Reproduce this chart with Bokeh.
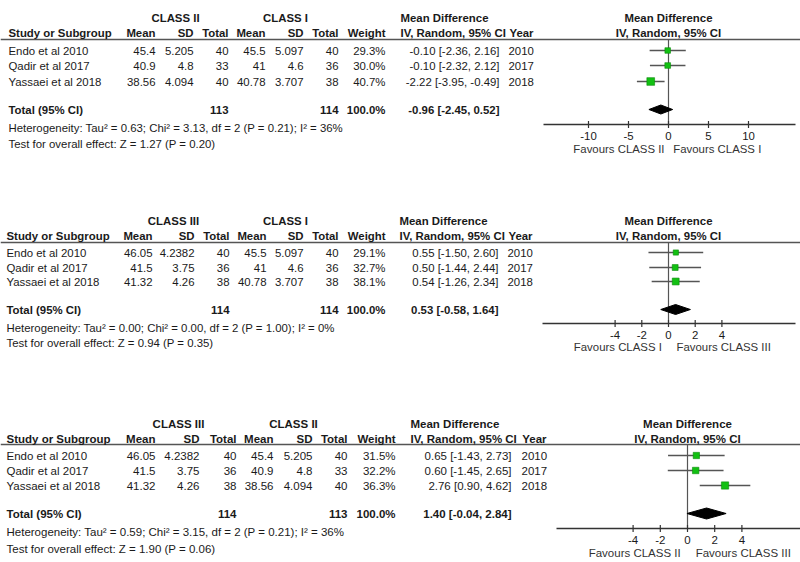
from bokeh.plotting import figure
from bokeh.models import Range1d
from bokeh.core.properties import value
from bokeh.embed import file_html
from bokeh.resources import INLINE

# ---------------- data ----------------
STUDIES = ["Endo et al 2010", "Qadir et al 2017", "Yassaei et al 2018"]
YEARS = [2010, 2017, 2018]

# Panel 1: CLASS II vs CLASS I
P1_GROUPS = ["CLASS II", "CLASS I"]
P1_MEAN_A = ["45.4", "40.9", "38.56"]
P1_SD_A = ["5.205", "4.8", "4.094"]
P1_N_A = [40, 33, 40]
P1_MEAN_B = ["45.5", "41", "40.78"]
P1_SD_B = ["5.097", "4.6", "3.707"]
P1_N_B = [40, 36, 38]
P1_WEIGHT = [29.3, 30.0, 40.7]
P1_MD = [-0.10, -0.10, -2.22]
P1_LO = [-2.36, -2.32, -3.95]
P1_HI = [2.16, 2.12, -0.49]
P1_TOTAL = [-0.96, -2.45, 0.52]
P1_N_TOT = [113, 114]
P1_W_TOT = 100.0
P1_HET = "Heterogeneity: Tau\u00b2 = 0.63; Chi\u00b2 = 3.13, df = 2 (P = 0.21); I\u00b2 = 36%"
P1_TEST = "Test for overall effect: Z = 1.27 (P = 0.20)"
P1_TICKS = [-10, -5, 0, 5, 10]
P1_FAV = ["Favours CLASS II", "Favours CLASS I"]

# Panel 2: CLASS III vs CLASS I
P2_GROUPS = ["CLASS III", "CLASS I"]
P2_MEAN_A = ["46.05", "41.5", "41.32"]
P2_SD_A = ["4.2382", "3.75", "4.26"]
P2_N_A = [40, 36, 38]
P2_MEAN_B = ["45.5", "41", "40.78"]
P2_SD_B = ["5.097", "4.6", "3.707"]
P2_N_B = [40, 36, 38]
P2_WEIGHT = [29.1, 32.7, 38.1]
P2_MD = [0.55, 0.50, 0.54]
P2_LO = [-1.50, -1.44, -1.26]
P2_HI = [2.60, 2.44, 2.34]
P2_TOTAL = [0.53, -0.58, 1.64]
P2_N_TOT = [114, 114]
P2_W_TOT = 100.0
P2_HET = "Heterogeneity: Tau\u00b2 = 0.00; Chi\u00b2 = 0.00, df = 2 (P = 1.00); I\u00b2 = 0%"
P2_TEST = "Test for overall effect: Z = 0.94 (P = 0.35)"
P2_TICKS = [-4, -2, 0, 2, 4]
P2_FAV = ["Favours CLASS I", "Favours CLASS III"]

# Panel 3: CLASS III vs CLASS II
P3_GROUPS = ["CLASS III", "CLASS II"]
P3_MEAN_A = ["46.05", "41.5", "41.32"]
P3_SD_A = ["4.2382", "3.75", "4.26"]
P3_N_A = [40, 36, 38]
P3_MEAN_B = ["45.4", "40.9", "38.56"]
P3_SD_B = ["5.205", "4.8", "4.094"]
P3_N_B = [40, 33, 40]
P3_WEIGHT = [31.5, 32.2, 36.3]
P3_MD = [0.65, 0.60, 2.76]
P3_LO = [-1.43, -1.45, 0.90]
P3_HI = [2.73, 2.65, 4.62]
P3_TOTAL = [1.40, -0.04, 2.84]
P3_N_TOT = [114, 113]
P3_W_TOT = 100.0
P3_HET = "Heterogeneity: Tau\u00b2 = 0.59; Chi\u00b2 = 3.15, df = 2 (P = 0.21); I\u00b2 = 36%"
P3_TEST = "Test for overall effect: Z = 1.90 (P = 0.06)"
P3_TICKS = [-4, -2, 0, 2, 4]
P3_FAV = ["Favours CLASS II", "Favours CLASS III"]

# ---------------- layout (pixels) ----------------
W, H = 800, 562
LAYOUT = [
    dict(grp_y=17, hdr_y=32, line_y=39, rows=[50, 65, 81], tot_y=109, het_y=127, test_y=143,
         axis_y=124, tick_y=135, fav_y=148, zero=668, scale=8.0, axis_px=(543, 795),
         study_x=8, cols=[155, 193, 228, 265, 303, 338, 385], md_r=499, year_l=508, year_r=533,
         mdh_l=400, grp_c=[175, 285], fc=668, sq=0.19, dh=4.5, fs=11.4),
    dict(grp_y=220, hdr_y=235, line_y=242, rows=[252, 267, 281], tot_y=309, het_y=327, test_y=342,
         axis_y=323, tick_y=334, fav_y=346, zero=668, scale=13.35, axis_px=(542, 795),
         study_x=6, cols=[152, 194, 229, 266, 303, 338, 385], md_r=498, year_l=507, year_r=532,
         mdh_l=399, grp_c=[173, 285], fc=668, sq=0.18, dh=5, fs=11.4),
    dict(grp_y=423, hdr_y=438, line_y=444, rows=[455, 470, 485], tot_y=513, het_y=531, test_y=548,
         axis_y=528, tick_y=539, fav_y=552, zero=687, scale=13.6, axis_px=(556, 800),
         study_x=6, cols=[155, 199, 236, 273, 312, 347, 395], md_r=511, year_l=521, year_r=546,
         mdh_l=410, grp_c=[178, 293], fc=687, sq=0.20, dh=5.5, fs=11.5),
]

PANELS = [
    dict(groups=P1_GROUPS, ma=P1_MEAN_A, sa=P1_SD_A, na=P1_N_A, mb=P1_MEAN_B, sb=P1_SD_B, nb=P1_N_B,
         w=P1_WEIGHT, md=P1_MD, lo=P1_LO, hi=P1_HI, tot=P1_TOTAL, ntot=P1_N_TOT, wtot=P1_W_TOT,
         het=P1_HET, test=P1_TEST, ticks=P1_TICKS, fav=P1_FAV),
    dict(groups=P2_GROUPS, ma=P2_MEAN_A, sa=P2_SD_A, na=P2_N_A, mb=P2_MEAN_B, sb=P2_SD_B, nb=P2_N_B,
         w=P2_WEIGHT, md=P2_MD, lo=P2_LO, hi=P2_HI, tot=P2_TOTAL, ntot=P2_N_TOT, wtot=P2_W_TOT,
         het=P2_HET, test=P2_TEST, ticks=P2_TICKS, fav=P2_FAV),
    dict(groups=P3_GROUPS, ma=P3_MEAN_A, sa=P3_SD_A, na=P3_N_A, mb=P3_MEAN_B, sb=P3_SD_B, nb=P3_N_B,
         w=P3_WEIGHT, md=P3_MD, lo=P3_LO, hi=P3_HI, tot=P3_TOTAL, ntot=P3_N_TOT, wtot=P3_W_TOT,
         het=P3_HET, test=P3_TEST, ticks=P3_TICKS, fav=P3_FAV),
]

FONT = "Liberation Sans"
TXT = "#1a1a1a"
LINE = "#555555"
GREEN = "#12c012"
GREEN_EDGE = "#0a8a0a"

p = figure(width=W, height=H, x_range=Range1d(0, W), y_range=Range1d(H, 0),
           output_backend="svg", toolbar_location=None, min_border=0,
           outline_line_color=None, background_fill_color="white")
p.axis.visible = False
p.xgrid.visible = False
p.ygrid.visible = False

# forest scales: one extra x range per panel, mapping mean difference to the frame
for i, L in enumerate(LAYOUT):
    p.extra_x_ranges[f"f{i}"] = Range1d(-L["zero"] / L["scale"], (W - L["zero"]) / L["scale"])

texts = {}


def t(x, y, s, align="left", bold=False, size=11, color=TXT, rng="default"):
    key = (align, bold, size, color, rng)
    d = texts.setdefault(key, dict(x=[], y=[], text=[]))
    d["x"].append(x)
    d["y"].append(y)
    d["text"].append(s)


def fmd(v):
    return f"{v:.2f}"


for i, (L, P) in enumerate(zip(LAYOUT, PANELS)):
    fs = L["fs"]
    rn = f"f{i}"
    c = L["cols"]
    # group headers
    t(L["grp_c"][0], L["grp_y"], P["groups"][0], "center", True, fs)
    t(L["grp_c"][1], L["grp_y"], P["groups"][1], "center", True, fs)
    t(L["mdh_l"], L["grp_y"], "Mean Difference", "left", True, fs)
    t(L["fc"], L["grp_y"], "Mean Difference", "center", True, fs)
    # column headers
    t(L["study_x"], L["hdr_y"], "Study or Subgroup", "left", True, fs)
    for x, s in zip(c, ["Mean", "SD", "Total", "Mean", "SD", "Total", "Weight"]):
        t(x, L["hdr_y"], s, "right", True, fs)
    t(L["mdh_l"], L["hdr_y"], "IV, Random, 95% CI", "left", True, fs)
    t(L["year_r"], L["hdr_y"], "Year", "right", True, fs)
    t(L["fc"], L["hdr_y"], "IV, Random, 95% CI", "center", True, fs)
    # study rows
    for k, y in enumerate(L["rows"]):
        t(L["study_x"], y, STUDIES[k], "left", False, fs)
        vals = [P["ma"][k], P["sa"][k], str(P["na"][k]), P["mb"][k], P["sb"][k],
                str(P["nb"][k]), f"{P['w'][k]:.1f}%"]
        for x, s in zip(c, vals):
            t(x, y, s, "right", False, fs)
        t(L["md_r"], y, f"{fmd(P['md'][k])} [{fmd(P['lo'][k])}, {fmd(P['hi'][k])}]", "right", False, fs)
        t(L["year_l"], y, str(YEARS[k]), "left", False, fs)
    # total row
    t(L["study_x"], L["tot_y"], "Total (95% CI)", "left", True, fs)
    t(c[2], L["tot_y"], str(P["ntot"][0]), "right", True, fs)
    t(c[5], L["tot_y"], str(P["ntot"][1]), "right", True, fs)
    t(c[6], L["tot_y"], f"{P['wtot']:.1f}%", "right", True, fs)
    tt = P["tot"]
    t(L["md_r"], L["tot_y"], f"{fmd(tt[0])} [{fmd(tt[1])}, {fmd(tt[2])}]", "right", True, fs)
    t(L["study_x"], L["het_y"], P["het"], "left", False, fs)
    t(L["study_x"], L["test_y"], P["test"], "left", False, fs)

    # header rule
    p.segment(x0=[0], x1=[W], y0=[L["line_y"]], y1=[L["line_y"]], line_color=LINE, line_width=1.3)
    # axis line
    p.segment(x0=[L["axis_px"][0]], x1=[L["axis_px"][1]], y0=[L["axis_y"]], y1=[L["axis_y"]],
              line_color="#333333", line_width=1.3)
    # zero line
    p.segment(x0=[0], x1=[0], y0=[L["line_y"]], y1=[L["axis_y"]], line_color=LINE,
              line_width=1.2, x_range_name=rn)
    # ticks
    tk = P["ticks"]
    p.segment(x0=tk, x1=tk, y0=[L["axis_y"] - 3.5] * len(tk), y1=[L["axis_y"] + 3.5] * len(tk),
              line_color="#333333", line_width=1.2, x_range_name=rn)
    for v in tk:
        t(v, L["tick_y"], str(v), "center", False, fs, TXT, rn)
    t(-0.5, L["fav_y"], P["fav"][0], "right", False, fs, "#333333", rn)
    t(0.6, L["fav_y"], P["fav"][1], "left", False, fs, "#333333", rn)
    # CI lines
    p.segment(x0=P["lo"], x1=P["hi"], y0=L["rows"], y1=L["rows"], line_color=LINE,
              line_width=1.3, x_range_name=rn)
    # squares
    p.scatter(x=P["md"], y=L["rows"], marker="square", size=[w * L["sq"] for w in P["w"]],
              fill_color=GREEN, line_color=GREEN_EDGE, line_width=0.6, x_range_name=rn)
    # diamond
    yc, dh = L["tot_y"], L["dh"]
    p.patches(xs=[[tt[1], tt[0], tt[2], tt[0]]], ys=[[yc, yc - dh, yc, yc + dh]],
              fill_color="black", line_color="black", x_range_name=rn)

for (align, bold, size, color, rng), d in texts.items():
    p.text(x="x", y="y", text="text", source=d, text_align=align, text_baseline="middle",
           text_font=value(FONT), text_font_size=f"{size}px",
           text_font_style="bold" if bold else "normal", text_color=color, x_range_name=rng)

open("out.html", "w").write(file_html(p, INLINE))
